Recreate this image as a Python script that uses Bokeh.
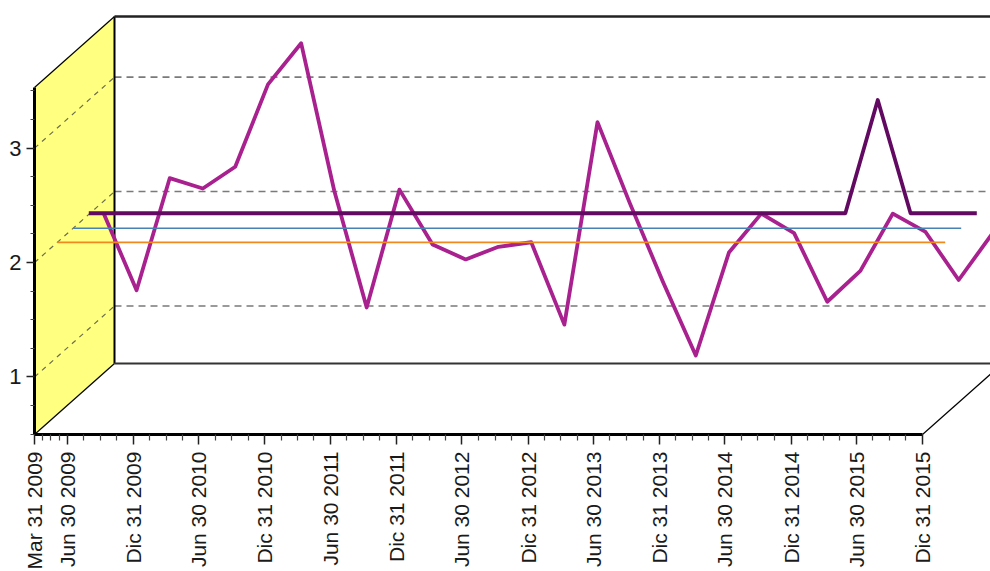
import math
import pandas as pd
from bokeh.plotting import figure
from bokeh.models import LinearAxis, FixedTicker, Range1d
from bokeh.embed import file_html
from bokeh.resources import INLINE

# ---------------- data ----------------
quarter_dates = ["2009-03-31", "2009-06-30", "2009-09-30", "2009-12-31",
                 "2010-03-31", "2010-06-30", "2010-09-30", "2010-12-31",
                 "2011-03-31", "2011-06-30", "2011-09-30", "2011-12-31",
                 "2012-03-31", "2012-06-30", "2012-09-30", "2012-12-31",
                 "2013-03-31", "2013-06-30", "2013-09-30", "2013-12-31",
                 "2014-03-31", "2014-06-30", "2014-09-30", "2014-12-31",
                 "2015-03-31", "2015-06-30", "2015-09-30", "2015-12-31"]
series_values = [1.89, 1.22, 2.20, 2.11, 2.30, 3.02, 3.38, 2.09,
                 1.07, 2.10, 1.62, 1.49, 1.60, 1.64, 0.92, 2.69,
                 1.98, 1.30, 0.65, 1.55, 1.89, 1.72, 1.12, 1.39,
                 1.89, 1.73, 1.31, 1.71]
upper_values = [2.01, 2.01, 2.01, 2.01, 2.01, 2.01, 2.01, 2.01,
                2.01, 2.01, 2.01, 2.01, 2.01, 2.01, 2.01, 2.01,
                2.01, 2.01, 2.01, 2.01, 2.01, 2.01, 2.01, 2.01,
                3.00, 2.01, 2.01, 2.01]
blue_level = 2.00
orange_level = 2.00

tick_dates = ["2009-03-31", "2009-06-30", "2009-12-31", "2010-06-30", "2010-12-31",
              "2011-06-30", "2011-12-31", "2012-06-30", "2012-12-31", "2013-06-30",
              "2013-12-31", "2014-06-30", "2014-12-31", "2015-06-30", "2015-12-31"]
tick_labels = ["Mar 31 2009", "Jun 30 2009", "Dic 31 2009", "Jun 30 2010", "Dic 31 2010",
               "Jun 30 2011", "Dic 31 2011", "Jun 30 2012", "Dic 31 2012", "Jun 30 2013",
               "Dic 31 2013", "Jun 30 2014", "Dic 31 2014", "Jun 30 2015", "Dic 31 2015"]
y_ticks = [1, 2, 3]
y_min, y_max = 0.497, 3.53

# ---------------- layout constants ----------------
W, H = 990, 571
FRONT_X0, FRONT_X1 = 34, 922        # px of first / last tick
Y2_PX, PX_PER_UNIT = 262.07, 114.4  # px (from top) of value 2, px per unit
K = 71.0 / 80.0                     # depth slope
WALL_D, ORANGE_D, BLUE_D, PURPLE_D, MAG_D = 80.0, 22.7, 38.7, 54.3, 69.3

base = pd.Timestamp(quarter_dates[0])
def days(s):
    return int((pd.Timestamp(s) - base).days)

qx = [days(d) for d in quarter_dates]
tx = [days(d) for d in tick_dates]
PX_PER_DAY = (FRONT_X1 - FRONT_X0) / tx[-1]

def dshift(d):
    return d / PX_PER_DAY, d * K / PX_PER_UNIT

x_start = -FRONT_X0 / PX_PER_DAY
x_end = (W - FRONT_X0) / PX_PER_DAY
y_top = 2 + Y2_PX / PX_PER_UNIT
y_bot = 2 - (H - Y2_PX) / PX_PER_UNIT

p = figure(width=W, height=H, output_backend="svg", toolbar_location=None,
           x_axis_type=None, y_axis_type=None,
           x_range=Range1d(x_start, x_end), y_range=Range1d(y_bot, y_top),
           min_border=0, outline_line_color=None,
           background_fill_color="white", border_fill_color="white")
p.xgrid.visible = False
p.ygrid.visible = False

wx, wy = dshift(WALL_D)
x0, x1 = 0, tx[-1]
far = x_end + 50

# yellow left wall
p.patch([x0, x0 + wx, x0 + wx, x0], [y_max, y_max + wy, y_min + wy, y_min],
        fill_color="#FFFF80", line_color=None)
# diagonal dashed grid on left wall
for v in y_ticks:
    p.line([x0, x0 + wx], [v, v + wy], line_color="#6E6E50", line_width=1.2, line_dash="5 5")
# back wall dashed grid
for v in y_ticks:
    p.line([x0 + wx, far], [v + wy, v + wy], line_color="#7A7A7A", line_width=1.6, line_dash="7 5")
# wall edges
p.line([x0, x0 + wx], [y_max, y_max + wy], line_color="black", line_width=1.2)
p.line([x0, x0 + wx], [y_min, y_min + wy], line_color="black", line_width=1.2)
p.line([x1, x1 + wx], [y_min, y_min + wy], line_color="black", line_width=1.2)
p.line([x0 + wx, x0 + wx], [y_min + wy, y_max + wy], line_color="black", line_width=2)
p.line([x0 + wx, far], [y_max + wy, y_max + wy], line_color="#222222", line_width=2.5)
p.line([x0 + wx, far], [y_min + wy, y_min + wy], line_color="#333333", line_width=2.2)

# series (back to front)
mx, my = dshift(MAG_D)
p.line([x + mx for x in qx], [v + my for v in series_values],
       line_color="#A8218F", line_width=3.8, line_join="round")
px_, py_ = dshift(PURPLE_D)
p.line([x + px_ for x in qx], [v + py_ for v in upper_values],
       line_color="#620A62", line_width=3.8, line_join="round")
bx, by = dshift(BLUE_D)
p.line([qx[0] + bx, qx[-1] + bx], [blue_level + by, blue_level + by],
       line_color="#4682B4", line_width=1.6)
ox, oy = dshift(ORANGE_D)
p.line([qx[0] + ox, qx[-1] + ox], [orange_level + oy, orange_level + oy],
       line_color="#F08A1E", line_width=1.6)

# axes
minor_x = []
for a, b in zip(tx[:-1], tx[1:]):
    minor_x += [a + (b - a) * i / 4 for i in (1, 2, 3)]
xaxis = LinearAxis(fixed_location=y_min, bounds=(x0, x1),
                   ticker=FixedTicker(ticks=tx, minor_ticks=minor_x),
                   major_label_overrides={t: l for t, l in zip(tx, tick_labels)},
                   major_label_orientation=math.pi / 2,
                   axis_line_width=3, axis_line_color="black",
                   major_tick_out=10, major_tick_in=0, major_tick_line_width=1.5,
                   minor_tick_out=6, minor_tick_in=0, minor_tick_line_width=1.2,
                   major_tick_line_color="#222222", minor_tick_line_color="#444444",
                   major_label_standoff=7,
                   major_label_text_font="Liberation Sans",
                   major_label_text_font_size="21px",
                   major_label_text_color="#1a1a1a")
p.add_layout(xaxis, "below")

minor_y = [0.5, 0.75, 1.25, 1.5, 1.75, 2.25, 2.5, 2.75, 3.25, 3.5]
yaxis = LinearAxis(fixed_location=x0, bounds=(y_min, y_max),
                   ticker=FixedTicker(ticks=y_ticks, minor_ticks=minor_y),
                   axis_line_width=3, axis_line_color="black",
                   major_tick_out=8, major_tick_in=0, major_tick_line_width=1.5,
                   minor_tick_out=4, minor_tick_in=0, minor_tick_line_width=1.2,
                   major_tick_line_color="#222222", minor_tick_line_color="#444444",
                   major_label_standoff=5,
                   major_label_text_font="Liberation Sans",
                   major_label_text_font_size="22px",
                   major_label_text_color="#1a1a1a")
p.add_layout(yaxis, "left")

open("out.html", "w").write(file_html(p, INLINE))
